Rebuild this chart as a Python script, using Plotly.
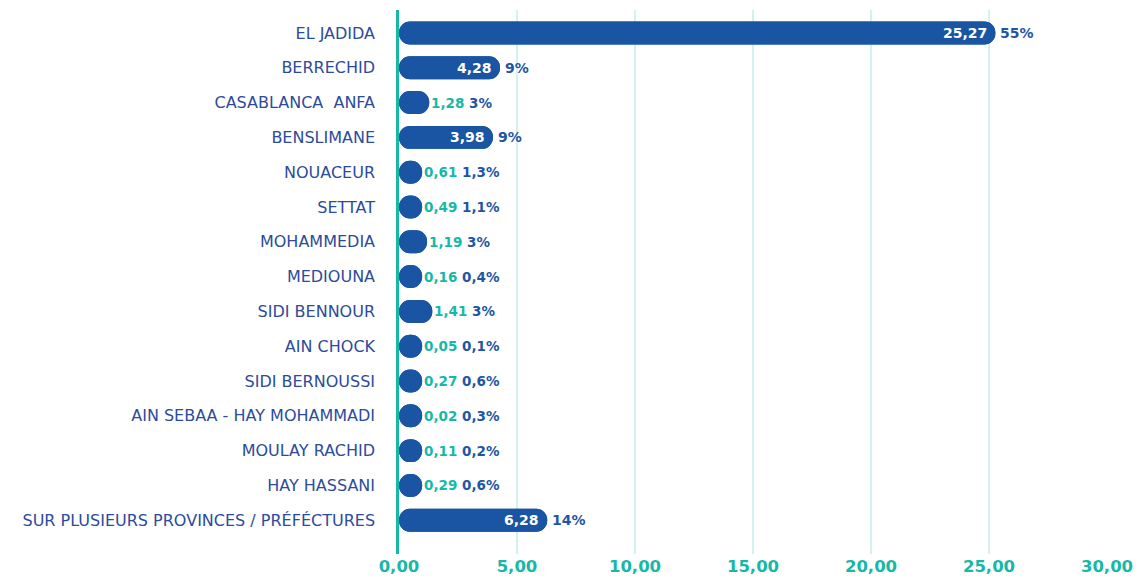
import plotly.graph_objects as go

categories = [
    "EL JADIDA", "BERRECHID", "CASABLANCA\u00a0 ANFA", "BENSLIMANE", "NOUACEUR",
    "SETTAT", "MOHAMMEDIA", "MEDIOUNA", "SIDI BENNOUR", "AIN CHOCK",
    "SIDI BERNOUSSI", "AIN SEBAA - HAY MOHAMMADI", "MOULAY RACHID", "HAY HASSANI",
    "SUR PLUSIEURS PROVINCES / PRÉFÉCTURES",
]
values = [25.27, 4.28, 1.28, 3.98, 0.61, 0.49, 1.19, 0.16, 1.41, 0.05, 0.27, 0.02, 0.11, 0.29, 6.28]
shares = [55, 9, 3, 9, 1.3, 1.1, 3, 0.4, 3, 0.1, 0.6, 0.3, 0.2, 0.6, 14]
x_ticks = [0, 5, 10, 15, 20, 25, 30]

BAR = "#1a55a3"
TEAL = "#17b8a6"
LABEL = "#2d4b9b"
PCT = "#1f56a3"
GRID = "#d3f1f1"
FONT = "DejaVu Sans"

MIN_LEN = 0.98
disp = [max(v, MIN_LEN) for v in values]


def fmt_num(v, d=2):
    return f"{v:.{d}f}".replace(".", ",")


def fmt_pct(p):
    s = f"{p:g}".replace(".", ",")
    return s + "%"


fig = go.Figure()
# right-rounded segment
fig.add_trace(go.Bar(
    y=categories, x=disp, base=0, orientation="h",
    marker=dict(color=BAR, cornerradius="50%", line=dict(width=0)),
    width=0.66, hoverinfo="skip", showlegend=False,
))
# left-rounded segment (drawn from end back to zero)
fig.add_trace(go.Bar(
    y=categories, x=[-d for d in disp], base=disp, orientation="h",
    marker=dict(color=BAR, cornerradius="50%", line=dict(width=0)),
    width=0.66, hoverinfo="skip", showlegend=False,
))

annotations = []
for cat, v, d, p in zip(categories, values, disp, shares):
    if v >= 3:
        annotations.append(dict(
            x=d, y=cat, xref="x", yref="y", xanchor="right", xshift=-6,
            text=fmt_num(v), showarrow=False,
            font=dict(family=FONT, size=14, color="white", weight="bold"),
        ))
        annotations.append(dict(
            x=d, y=cat, xref="x", yref="y", xanchor="left", xshift=3,
            text=fmt_pct(p), showarrow=False,
            font=dict(family=FONT, size=14, color=PCT, weight="bold"),
        ))
    else:
        annotations.append(dict(
            x=d, y=cat, xref="x", yref="y", xanchor="left", xshift=0,
            text=f"<span style='color:{TEAL}'>{fmt_num(v)}</span> "
                 f"<span style='color:{PCT}'>{fmt_pct(p)}</span>",
            showarrow=False,
            font=dict(family=FONT, size=13.5, color=PCT, weight="bold"),
        ))

n = len(categories)
fig.update_layout(
    width=1137, height=570,
    margin=dict(l=391, r=38, t=2, b=22),
    plot_bgcolor="white", paper_bgcolor="white",
    barmode="overlay",
    annotations=annotations,
    xaxis=dict(
        range=[0, 30], tickvals=x_ticks,
        ticktext=[fmt_num(t) for t in x_ticks],
        showgrid=True, gridcolor=GRID, gridwidth=1.5,
        zeroline=False, showline=False, ticks="",
        tickfont=dict(family=FONT, size=16.5, color=TEAL, weight="bold"),
        fixedrange=True,
    ),
    yaxis=dict(
        range=[n - 1 + 0.97, -0.66],
        categoryorder="array", categoryarray=categories,
        showgrid=False, zeroline=False,
        showline=True, linecolor=TEAL, linewidth=2.5,
        ticks="", ticklabelstandoff=18,
        tickfont=dict(family=FONT, size=16, color=LABEL),
        fixedrange=True,
    ),
    font=dict(family=FONT),
)

fig.write_html("out.html", config={"displayModeBar": False})
